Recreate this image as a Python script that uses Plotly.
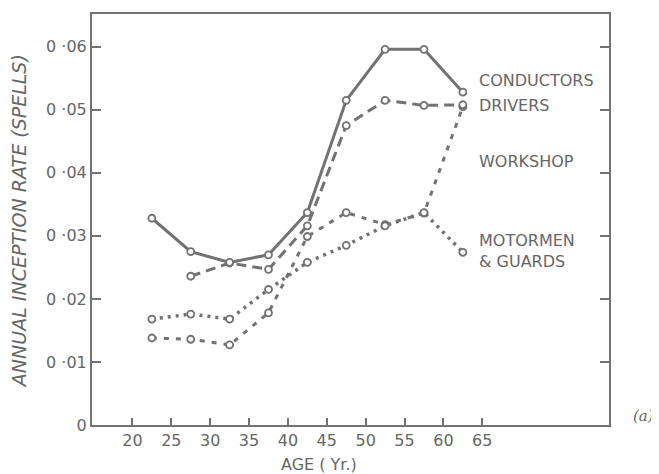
import plotly.graph_objects as go

ages = [22.5, 27.5, 32.5, 37.5, 42.5, 47.5, 52.5, 57.5, 62.5]
conductors = [0.0328, 0.0275, 0.0258, 0.0270, 0.0337, 0.0515, 0.0596, 0.0596, 0.0528]
driver_ages = [27.5, 32.5, 37.5, 42.5, 47.5, 52.5, 57.5, 62.5]
drivers = [0.0236, 0.0257, 0.0247, 0.0316, 0.0475, 0.0515, 0.0507, 0.0508]
workshop = [0.0138, 0.0136, 0.0127, 0.0178, 0.0299, 0.0337, 0.0318, 0.0336, 0.0505]
motormen = [0.0168, 0.0176, 0.0168, 0.0215, 0.0258, 0.0285, 0.0316, 0.0337, 0.0274]

x_ticks = [20, 25, 30, 35, 40, 45, 50, 55, 60, 65]
y_ticks = [0, 0.01, 0.02, 0.03, 0.04, 0.05, 0.06]
y_ticktext = ["0", "0 ·01", "0 ·02", "0 ·03", "0 ·04", "0 ·05", "0 ·06"]

labels = ["CONDUCTORS", "DRIVERS", "WORKSHOP", "MOTORMEN<br>& GUARDS"]
label_y = [0.0546, 0.0507, 0.0418, 0.0276]

GREY = "#727272"
TXT = "#666666"
FONT = "DejaVu Sans"

marker = dict(symbol="circle", size=7, color="white", line=dict(color=GREY, width=1.8))

fig = go.Figure()
fig.add_trace(go.Scatter(x=ages, y=workshop, mode="lines+markers",
                         line=dict(color=GREY, width=3, dash="5px,7px"), marker=marker))
fig.add_trace(go.Scatter(x=ages, y=motormen, mode="lines+markers",
                         line=dict(color=GREY, width=3.5, dash="3px,5px"), marker=marker))
fig.add_trace(go.Scatter(x=driver_ages, y=drivers, mode="lines+markers",
                         line=dict(color=GREY, width=3, dash="10px,6px"), marker=marker))
fig.add_trace(go.Scatter(x=ages, y=conductors, mode="lines+markers",
                         line=dict(color=GREY, width=3), marker=marker))

annotations = []
for t, yv in zip(labels, label_y):
    annotations.append(dict(x=64.3, y=yv, xref="x", yref="y", text=t, showarrow=False,
                            xanchor="left", yanchor="middle", align="left",
                            font=dict(family=FONT, size=16, color=TXT)))
annotations.append(dict(x=44.0, y=-0.097, xref="x", yref="paper", text="AGE ( Yr.)",
                        showarrow=False, xanchor="center", yanchor="middle",
                        font=dict(family=FONT, size=16, color=TXT)))
annotations.append(dict(x=-0.142, y=0.495, xref="paper", yref="paper",
                        text="<i>ANNUAL INCEPTION RATE (SPELLS)</i>", textangle=-90,
                        showarrow=False, xanchor="center", yanchor="middle",
                        font=dict(family=FONT, size=19, color=TXT)))
annotations.append(dict(x=1.066, y=0.022, xref="paper", yref="paper", text="<i>(a)</i>",
                        showarrow=False, xanchor="center", yanchor="middle",
                        font=dict(family="DejaVu Serif", size=15, color=TXT)))

# page body has an 8px default margin, so the figure is sized to fit the window
fig.update_layout(
    width=651, height=466,
    margin=dict(l=84, r=50, t=4, b=48.5),
    plot_bgcolor="white", paper_bgcolor="white",
    showlegend=False,
    annotations=annotations,
)
fig.update_xaxes(range=[14.8, 81.3], tickvals=x_ticks, ticks="inside", ticklen=7,
                 tickwidth=1.5, tickcolor=GREY, showline=True, linecolor=GREY, linewidth=2,
                 mirror=True, showgrid=False, zeroline=False,
                 tickfont=dict(family=FONT, size=16, color=TXT))
fig.update_yaxes(range=[0, 0.0652], tickvals=y_ticks, ticktext=y_ticktext, ticks="inside",
                 ticklen=9, tickwidth=1.5, tickcolor=GREY, showline=True, linecolor=GREY,
                 linewidth=2, mirror="ticks", showgrid=False, zeroline=False,
                 tickfont=dict(family=FONT, size=16, color=TXT))

fig.write_html("out.html")
